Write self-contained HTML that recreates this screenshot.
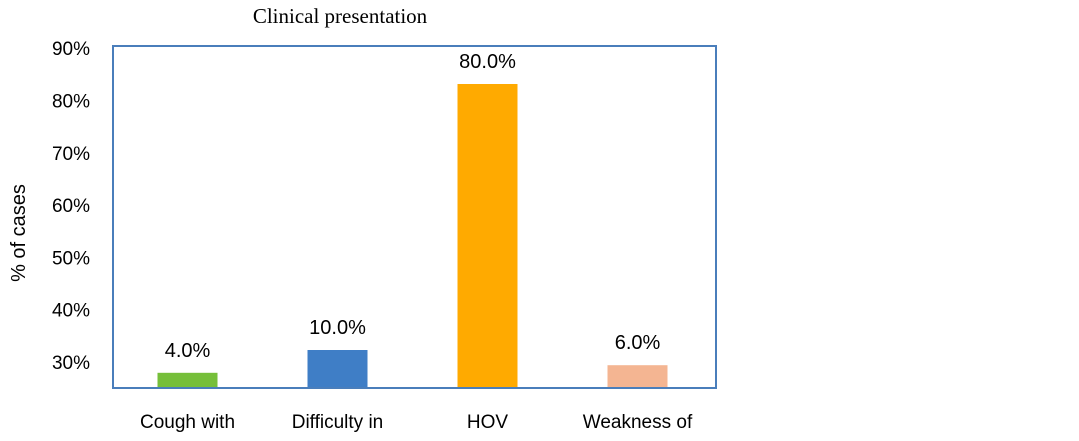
<!DOCTYPE html>
<html><head><meta charset="utf-8"><style>
html,body{margin:0;padding:0;background:#fff;}
svg{display:block;font-family:"Liberation Sans",sans-serif;}
</style></head><body>
<svg id="chart" width="1079" height="441">
<text x="340" y="23" text-anchor="middle" font-family="Liberation Serif" font-size="21" fill="#000">Clinical presentation</text>
<text transform="translate(25,233) rotate(-90)" text-anchor="middle" font-size="20" fill="#000">% of cases</text>
<g id="yticks"></g>
<g id="bars"></g>
<rect x="113" y="46" width="603" height="342" fill="none" stroke="#4a7ebb" stroke-width="2"/>
</svg>
<script>
const categories = ["Cough with", "Difficulty in", "HOV", "Weakness of"];
const values = [4, 10, 80, 6];
const valueLabels = ["4.0%", "10.0%", "80.0%", "6.0%"];
const colors = ["#76bf3a", "#3f7ec6", "#ffaa00", "#f4b592"];
const tickLabels = ["30%", "40%", "50%", "60%", "70%", "80%", "90%"];

const NS = "http://www.w3.org/2000/svg";
const plotBottom = 388, pxPerUnit = 3.8;
const x0 = 113, band = 150, barW = 60;
function yScale(v){ return plotBottom - v * pxPerUnit; }
function xCenter(i){ return x0 + band * i + band / 2 - 0.5; }
function tickY(i){ return 362 - i * 52.3; }

const yt = document.getElementById("yticks");
tickLabels.forEach((t, i) => {
  const el = document.createElementNS(NS, "text");
  el.setAttribute("x", 90);
  el.setAttribute("y", tickY(i) + 7);
  el.setAttribute("text-anchor", "end");
  el.setAttribute("font-size", "19");
  el.textContent = t;
  
  
  yt.appendChild(el);
});

const bg = document.getElementById("bars");
categories.forEach((c, i) => {
  const cx = xCenter(i);
  const top = yScale(values[i]);
  const r = document.createElementNS(NS, "rect");
  r.setAttribute("x", cx - barW / 2);
  r.setAttribute("y", top);
  r.setAttribute("width", barW);
  r.setAttribute("height", plotBottom - top);
  r.setAttribute("fill", colors[i]);
  
  
  bg.appendChild(r);
  const v = document.createElementNS(NS, "text");
  v.setAttribute("x", cx);
  v.setAttribute("y", top - 16);
  v.setAttribute("text-anchor", "middle");
  v.setAttribute("font-size", "20");
  v.textContent = valueLabels[i];
  
  
  bg.appendChild(v);
  const l = document.createElementNS(NS, "text");
  l.setAttribute("x", cx);
  l.setAttribute("y", 428);
  l.setAttribute("text-anchor", "middle");
  l.setAttribute("font-size", "19");
  l.textContent = c;
  
  
  bg.appendChild(l);
});
</script>
</body></html>
